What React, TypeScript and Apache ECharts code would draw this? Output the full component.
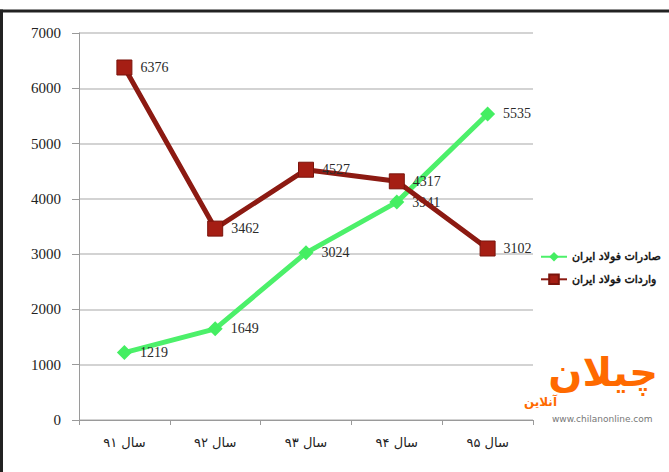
import React, { useEffect, useRef } from "react";
import * as echarts from "echarts";

const categories = ["سال ۹۱", "سال ۹۲", "سال ۹۳", "سال ۹۴", "سال ۹۵"];
const exportsName = "صادرات فولاد ایران";
const importsName = "واردات فولاد ایران";
const exportsValues = [1219, 1649, 3024, 3941, 5535];
const importsValues = [6376, 3462, 4527, 4317, 3102];
const yTicks = { min: 0, max: 7000, interval: 1000 };

export default function App() {
  const ref = useRef<HTMLDivElement>(null);
  useEffect(() => {
    if (!ref.current) return;
    const chart = echarts.init(ref.current, undefined, { renderer: "svg" });
    const labelStyle = {
      show: true,
      position: "right" as const,
      distance: 8,
      fontFamily: "Liberation Serif",
      fontSize: 14,
      color: "#2a2a2a",
    };
    chart.setOption({
      animation: false,
      backgroundColor: "#ffffff",
      grid: { left: 79, right: 136, top: 33, bottom: 52, containLabel: false },
      legend: {
        orient: "vertical",
        left: 540,
        top: 251,
        padding: 0,
        itemWidth: 26,
        itemHeight: 12,
        itemGap: 11,
        textStyle: {
          fontFamily: "DejaVu Sans",
          fontWeight: "normal",
          fontSize: 11,
          color: "#111",
          textBorderColor: "#111",
          textBorderWidth: 0.5,
        },
        data: [exportsName, importsName],
      },
      xAxis: {
        type: "category",
        data: categories,
        boundaryGap: true,
        axisLine: { lineStyle: { color: "#9a9a9a", width: 1 } },
        axisTick: { show: true, length: 5, lineStyle: { color: "#9a9a9a" } },
        axisLabel: { fontFamily: "DejaVu Sans", fontSize: 13, color: "#222", margin: 16 },
        splitLine: { show: false },
      },
      yAxis: {
        type: "value",
        min: yTicks.min,
        max: yTicks.max,
        interval: yTicks.interval,
        axisLine: { show: true, lineStyle: { color: "#9a9a9a", width: 1 } },
        axisTick: { show: true, length: 7, lineStyle: { color: "#9a9a9a" } },
        axisLabel: {
          fontFamily: "Liberation Serif",
          fontSize: 15,
          color: "#222",
          margin: 18,
          formatter: (v: number) => String(v),
        },
        splitLine: { show: true, lineStyle: { color: "#c4c4c4", width: 1.5 } },
      },
      series: [
        {
          name: exportsName,
          type: "line",
          data: exportsValues,
          symbol: "diamond",
          symbolSize: 15,
          lineStyle: { color: "#4cf06a", width: 5 },
          itemStyle: { color: "#44ee62" },
          label: labelStyle,
          z: 2,
        },
        {
          name: importsName,
          type: "line",
          data: importsValues,
          symbol: "rect",
          symbolSize: 15,
          lineStyle: { color: "#8c1a12", width: 5 },
          itemStyle: { color: "#a51e14", borderColor: "#7a140c", borderWidth: 1 },
          label: labelStyle,
          z: 3,
        },
      ],
      graphic: [
        { type: "rect", shape: { x: 0, y: 9.5, width: 669, height: 3 }, style: { fill: "#222" }, silent: true },
        { type: "rect", shape: { x: 0, y: 9.5, width: 3, height: 463 }, style: { fill: "#222" }, silent: true },
        {
          type: "text",
          x: 658,
          y: 352,
          style: {
            text: "چیلان",
            align: "right",
            fontFamily: "DejaVu Sans",
            fontWeight: "bold",
            fontSize: 40,
            fill: "#ff6a00",
          },
          silent: true,
        },
        {
          type: "text",
          x: 557,
          y: 396,
          style: {
            text: "آنلاین",
            align: "right",
            fontFamily: "DejaVu Sans",
            fontWeight: "bold",
            fontSize: 12,
            fill: "#ff6a00",
          },
          silent: true,
        },
        {
          type: "text",
          x: 552,
          y: 414,
          style: { text: "www.chilanonline.com", fontFamily: "DejaVu Sans", fontSize: 9, fill: "#777" },
          silent: true,
        },
      ],
    });
    return () => chart.dispose();
  }, []);
  return (
    <div
      ref={ref}
      style={{ position: "fixed", left: 0, top: 0, width: 669, height: 472, background: "#fff" }}
    />
  );
}
